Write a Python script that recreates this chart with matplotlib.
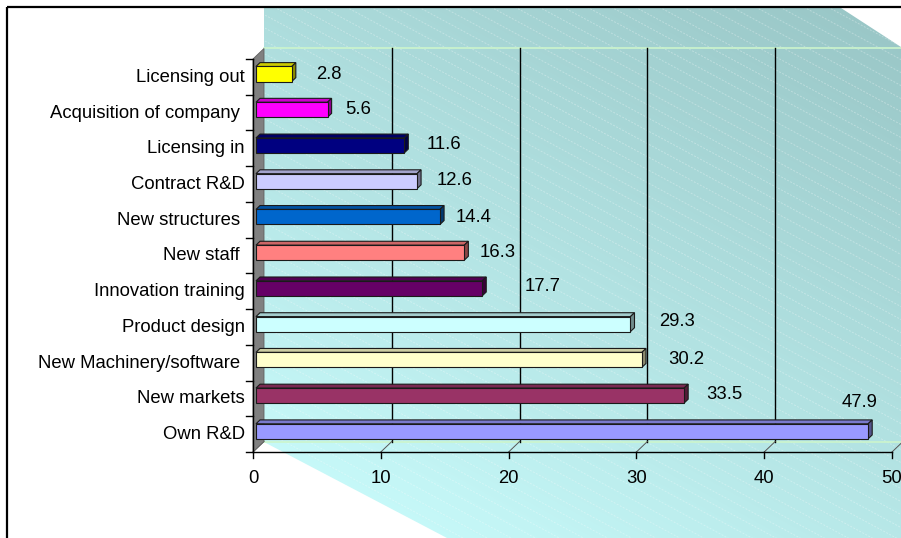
import matplotlib
matplotlib.use("Agg")
import matplotlib.pyplot as plt
from matplotlib.patches import Polygon, Rectangle
from matplotlib.collections import LineCollection
import numpy as np

# data, bottom category first
categories = ["Own R&D", "New markets", "New Machinery/software ", "Product design",
              "Innovation training", "New staff ", "New structures ", "Contract R&D",
              "Licensing in", "Acquisition of company ", "Licensing out"]
values = [47.9, 33.5, 30.2, 29.3, 17.7, 16.3, 14.4, 12.6, 11.6, 5.6, 2.8]
colors = ["#9999FF", "#993366", "#FFFFCC", "#CCFFFF", "#660066", "#FF8080",
          "#0066CC", "#CCCCFF", "#000080", "#FF00FF", "#FFFF00"]
xticks = [0, 10, 20, 30, 40, 50]

# where each value label sits relative to the end of its bar
label_dx = [-0.4, 3.35, 3.68, 3.88, 4.99, 2.87, 2.89, 3.21, 3.35, 2.62, 3.15]
label_dy = [0.95, 0.15, 0.13, 0.20, 0.20, 0.15, 0.11, 0.14, 0.15, 0.15, 0.11]

W, H = 901, 538
PX = 12.78      # pixels per value unit
CY = 35.73      # pixels per category
X0, Y0 = 253, 452  # front origin in pixels (from top)
n = len(categories)

def dx(px):
    return (px - X0) / PX

def dy(py):
    return -0.5 + (Y0 - py) / CY

DX = 11 / PX    # 3d depth offset
DY = 10.5 / CY
f0, f1 = 0.27, 0.64
bh = 0.42

plt.rcParams['font.family'] = ['Liberation Sans', 'DejaVu Sans']
fs = 13.3

fig = plt.figure(figsize=(W / 100, H / 100), dpi=100)
ax = fig.add_axes([0, 0, 1, 1])
ax.set_xlim(dx(0), dx(W))
ax.set_ylim(dy(H), dy(0))
ax.axis('off')

# gradient backdrop with light diagonal hatching
bg_pts = [(264, 8), (841, 8), (901, 47), (901, 538), (447, 538), (264, 442)]
bg = Polygon([(dx(a), dy(b)) for a, b in bg_pts], closed=True, transform=ax.transData)
xx, yy = np.meshgrid(np.arange(W), np.arange(H))
t = np.clip(0.4 * (xx - 264) / 637 + 0.6 * (538 - yy) / 530, 0, 1)[..., None]
c0 = np.array([204, 255, 255]) / 255
c1 = np.array([152, 197, 197]) / 255
img = c0 + t * (c1 - c0)
im = ax.imshow(img, extent=(dx(0), dx(W), dy(H), dy(0)), origin='upper',
               aspect='auto', zorder=0, interpolation='bilinear')
im.set_clip_path(bg)

segs = []
for b in np.arange(-700, 560, 13):
    segs.append([(dx(0), dy(b)), (dx(W), dy(b + 0.54 * W))])
hatch = LineCollection(segs, colors='white', linewidths=0.7, alpha=0.3,
                       linestyles=(0, (2, 1.5)), zorder=0.5)
ax.add_collection(hatch)
hatch.set_clip_path(bg)

# back wall edges and gridlines
ytop, ybot = n - 0.5 + DY, -0.5 + DY
ax.plot([DX, dx(W)], [ytop, ytop], color='#CCF5CC', lw=1.2, zorder=1)
ax.plot([DX, dx(W)], [ybot, ybot], color='#CCF5CC', lw=1.2, zorder=1)
for tk in xticks[1:]:
    ax.plot([tk + DX, tk + DX], [ybot, ytop], color='black', lw=1, zorder=1)
    ax.plot([tk, tk + DX], [-0.5, ybot], color='#555555', lw=0.7, zorder=1)
ax.plot([0, DX], [-0.5, ybot], color='#555555', lw=0.7, zorder=1)

# left side wall
wall = Polygon([(0, -0.5), (DX, ybot), (DX, ytop), (0, n - 0.5)], closed=True,
               facecolor='#808080', edgecolor='#606060', lw=0.6, zorder=1.5)
ax.add_patch(wall)

# axes lines and ticks
ax.plot([0, xticks[-1]], [-0.5, -0.5], color='black', lw=1, zorder=2)
ax.plot([0, 0], [-0.5, n - 0.5], color='black', lw=1, zorder=2)
for tk in xticks:
    ax.plot([tk, tk], [-0.5, -0.5 - 6 / CY], color='black', lw=1, zorder=2)
    ax.text(tk, -0.5 - 31 / CY, str(tk), ha='center', va='baseline', fontsize=fs, zorder=4)
for k in range(n + 1):
    ax.plot([0, -7 / PX], [k - 0.5, k - 0.5], color='black', lw=1, zorder=2)


def shade(col, f):
    r, g, b = matplotlib.colors.to_rgb(col)
    return (r * f, g * f, b * f)

# 3d bars
for i, (v, col) in enumerate(zip(values, colors)):
    xa, xb = f0 * DX, v + f0 * DX
    ya, yb = i - bh / 2 + f0 * DY, i + bh / 2 + f0 * DY
    ddx, ddy = (f1 - f0) * DX, (f1 - f0) * DY
    front = Polygon([(xa, ya), (xb, ya), (xb, yb), (xa, yb)], closed=True)
    top = Polygon([(xa, yb), (xb, yb), (xb + ddx, yb + ddy), (xa + ddx, yb + ddy)], closed=True)
    side = Polygon([(xb, ya), (xb + ddx, ya + ddy), (xb + ddx, yb + ddy), (xb, yb)], closed=True)
    for p, f in ((top, 0.8), (side, 0.55), (front, 1.0)):
        p.set_facecolor(shade(col, f))
        p.set_edgecolor('#1a1a1a')
        p.set_linewidth(0.8)
        p.set_zorder(3)
        ax.add_patch(p)
    ax.text(v + label_dx[i], i + label_dy[i] - 0.18, f"{v}", ha='center', va='baseline',
            fontsize=fs, zorder=4)
    ax.text(dx(245), i - 0.14, categories[i], ha='right', va='baseline', fontsize=fs, zorder=4)

# chart frame
frame = Rectangle((dx(7), dy(7)), dx(930) - dx(7), dy(570) - dy(7), fill=False,
                  edgecolor='black', lw=1.6, zorder=5)
ax.add_patch(frame)

fig.savefig('out.png', dpi=100)
